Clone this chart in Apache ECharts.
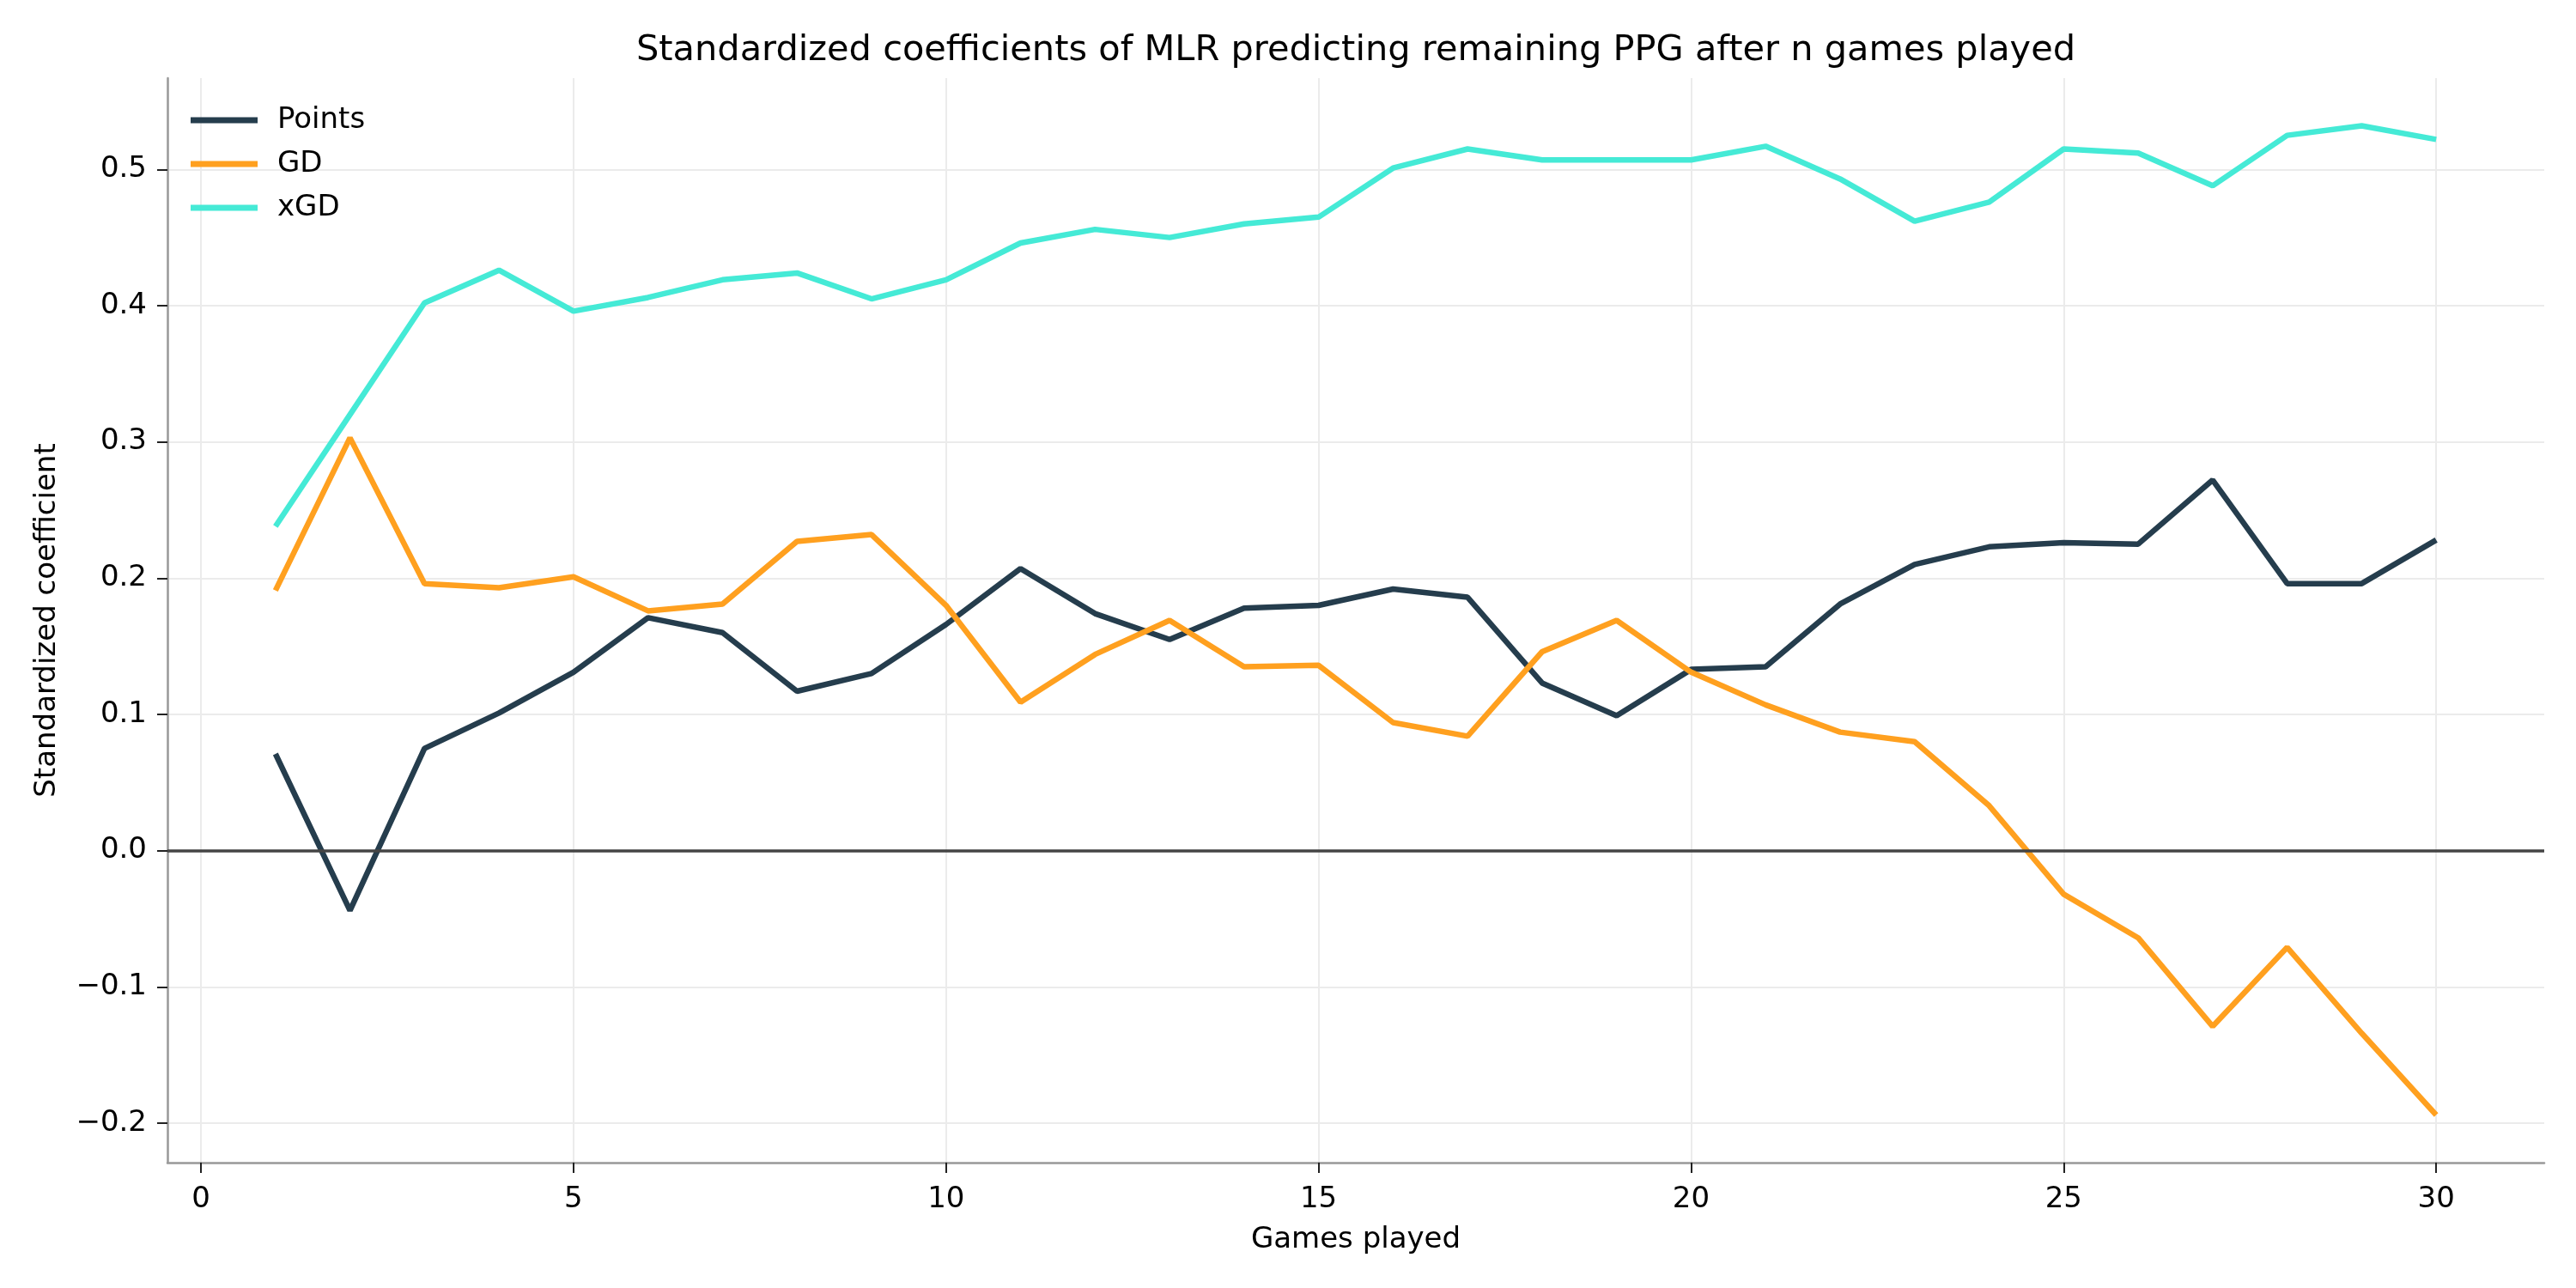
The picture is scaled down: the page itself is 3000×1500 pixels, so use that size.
<!DOCTYPE html>
<html>
<head>
<meta charset="utf-8">
<script src="https://cdn.jsdelivr.net/npm/echarts@6/dist/echarts.min.js"></script>
<style>html,body{margin:0;padding:0;background:#fff}#c{width:3000px;height:1500px}</style>
</head>
<body>
<div id="c"></div>
<script>
const games = [1,2,3,4,5,6,7,8,9,10,11,12,13,14,15,16,17,18,19,20,21,22,23,24,25,26,27,28,29,30];
const pointsCoef = [0.071,-0.044,0.075,0.101,0.131,0.171,0.160,0.117,0.130,0.166,0.207,0.174,0.155,0.178,0.180,0.192,0.186,0.123,0.099,0.133,0.135,0.181,0.210,0.223,0.226,0.225,0.272,0.196,0.196,0.228];
const gdCoef = [0.191,0.303,0.196,0.193,0.201,0.176,0.181,0.227,0.232,0.180,0.109,0.144,0.169,0.135,0.136,0.094,0.084,0.146,0.169,0.131,0.107,0.087,0.080,0.033,-0.032,-0.064,-0.129,-0.071,-0.134,-0.194];
const xgdCoef = [0.238,0.320,0.402,0.426,0.396,0.406,0.419,0.424,0.405,0.419,0.446,0.456,0.450,0.460,0.465,0.501,0.515,0.507,0.507,0.507,0.517,0.493,0.462,0.476,0.515,0.512,0.488,0.525,0.532,0.522];
const xTicks = [0,5,10,15,20,25,30];
const yTicks = [-0.2,-0.1,0.0,0.1,0.2,0.3,0.4,0.5];

const FONT = 'DejaVu Sans';
const pair = arr => games.map((g,i)=>[g, arr[i]]);
const chart = echarts.init(document.getElementById('c'), null, {renderer:'canvas'});
const lineW = 6.5;
chart.setOption({
  backgroundColor:'#ffffff',
  animation:false,
  title:{
    text:'Standardized coefficients of MLR predicting remaining PPG after n games played',
    left:1574, top:33, textAlign:'center',
    textStyle:{fontFamily:FONT, fontSize:41.5, fontWeight:'normal', color:'#000'}
  },
  legend:{
    orient:'vertical', left:217, top:115,
    icon:'rect', itemWidth:78, itemHeight:7, itemGap:11,
    textStyle:{fontFamily:FONT, fontSize:34, color:'#000', lineHeight:40, padding:[0,0,0,18]},
    data:['Points','GD','xGD']
  },
  grid:{left:195, right:37, top:91, bottom:146, containLabel:false},
  xAxis:{
    type:'value', min:-0.45, max:31.45,
    name:'Games played', nameLocation:'middle', nameGap:73,
    nameTextStyle:{fontFamily:FONT, fontSize:34, color:'#000'},
    axisLine:{show:true, onZero:false, lineStyle:{color:'#999', width:2.5}},
    axisTick:{show:true, length:12, lineStyle:{color:'#222', width:2}, customValues:xTicks},
    axisLabel:{fontFamily:FONT, fontSize:34, color:'#000', margin:26, customValues:xTicks},
    splitLine:{show:true, lineStyle:{color:'#ebebeb', width:2}}
  },
  yAxis:{
    type:'value', min:-0.229, max:0.567,
    name:'Standardized coefficient', nameLocation:'middle', nameGap:123,
    nameTextStyle:{fontFamily:FONT, fontSize:34, color:'#000'},
    axisLine:{show:true, onZero:false, lineStyle:{color:'#999', width:2.5}},
    axisTick:{show:true, length:12, lineStyle:{color:'#222', width:2}, customValues:yTicks},
    axisLabel:{fontFamily:FONT, fontSize:34, color:'#000', margin:24, customValues:yTicks,
      formatter: v => v.toFixed(1).replace('-', '\u2212')},
    splitLine:{show:true, lineStyle:{color:'#ebebeb', width:2}}
  },
  series:[
    {name:'Points', type:'line', data:pair(pointsCoef), symbol:'none', color:'#253d4d',
     lineStyle:{width:lineW, color:'#253d4d'},
     markLine:{silent:true, symbol:'none', label:{show:false}, animation:false,
       lineStyle:{color:'#444444', width:3.5, type:'solid'}, data:[{yAxis:0}]}},
    {name:'GD', type:'line', data:pair(gdCoef), symbol:'none', color:'#ffa01f',
     lineStyle:{width:lineW, color:'#ffa01f'}},
    {name:'xGD', type:'line', data:pair(xgdCoef), symbol:'none', color:'#45ead6',
     lineStyle:{width:lineW, color:'#45ead6'}}
  ]
});
</script>
</body>
</html>
